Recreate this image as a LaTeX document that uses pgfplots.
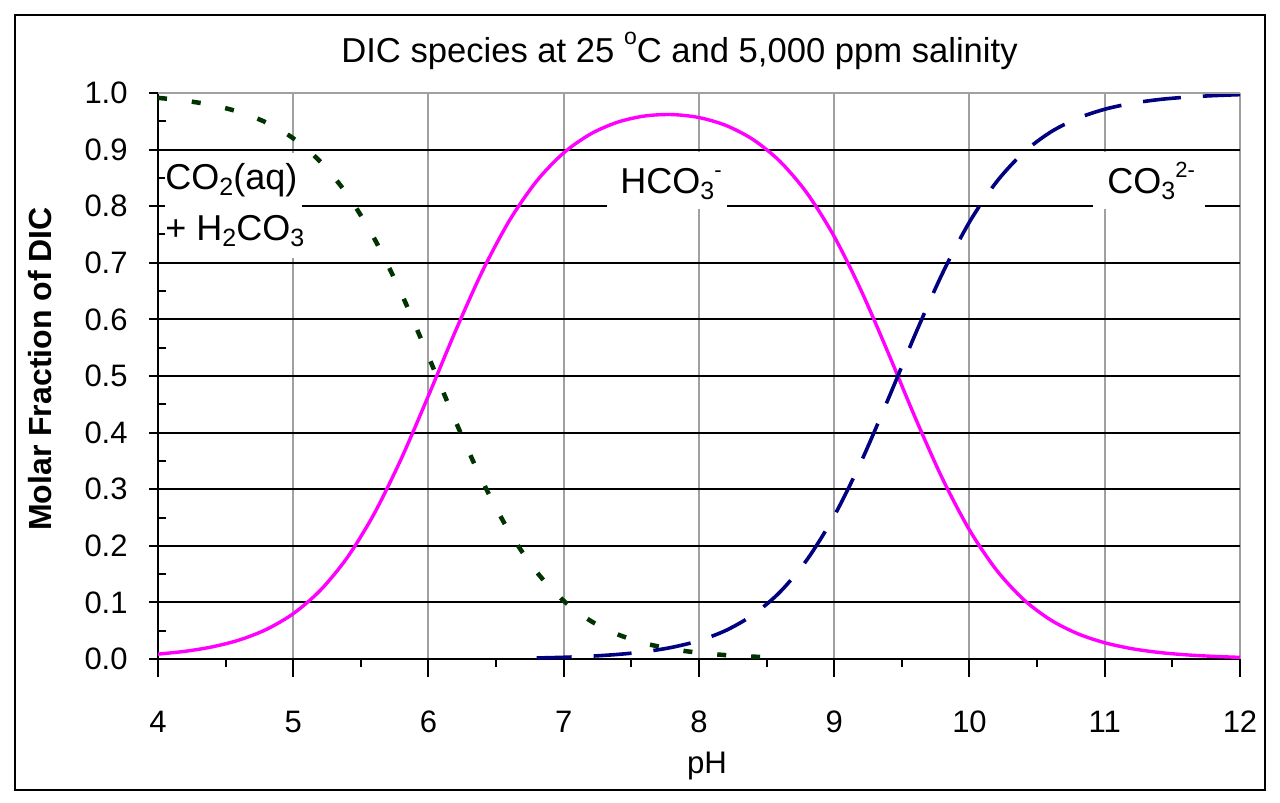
\documentclass[border=0pt]{standalone}
\usepackage{fontspec}
\setmainfont{Liberation Sans}
\usepackage{pgfplots}
\pgfplotsset{compat=1.18}
\definecolor{dicgreen}{RGB}{0,51,0}
\definecolor{dicblue}{RGB}{0,0,128}
\definecolor{dicmag}{RGB}{255,0,255}
\definecolor{gridgray}{RGB}{160,160,160}
\newcommand{\lsub}[1]{\raisebox{-3pt}{\fontsize{12.5}{13}\selectfont #1}}
\newcommand{\lsup}[1]{\raisebox{8pt}{\fontsize{11}{12}\selectfont #1}}

\pgfplotstableread{
ph frac
4.0 0.0086
4.2 0.0136
4.4 0.0214
4.6 0.0335
4.8 0.0521
5.0 0.0801
5.2 0.1213
5.4 0.1795
5.6 0.2574
5.8 0.3546
6.0 0.4654
6.2 0.5797
6.4 0.6859
6.6 0.7753
6.8 0.8445
7.0 0.8943
7.2 0.9278
7.4 0.9486
7.6 0.9594
7.8 0.9619
8.0 0.9566
8.2 0.9426
8.4 0.9177
8.6 0.8789
8.8 0.8226
9.0 0.7463
9.2 0.6504
9.4 0.5402
9.6 0.4257
9.8 0.3187
10.0 0.2279
10.2 0.1570
10.4 0.1051
10.6 0.0690
10.8 0.0447
11.0 0.0287
11.2 0.0183
11.4 0.0116
11.6 0.0074
11.8 0.0047
12.0 0.0029
}\hcothree

\pgfplotstableread{
ph frac
4.0 0.9914
4.2 0.9864
4.4 0.9786
4.6 0.9665
4.8 0.9479
5.0 0.9199
5.2 0.8787
5.4 0.8205
5.6 0.7426
5.8 0.6454
6.0 0.5344
6.2 0.4200
6.4 0.3135
6.6 0.2236
6.8 0.1537
7.0 0.1027
7.2 0.0672
7.4 0.0434
7.6 0.0277
7.8 0.0175
8.0 0.0110
8.2 0.0068
8.4 0.0042
8.6 0.0025
}\cotwo

\pgfplotstableread{
ph frac
6.8 0.0018
7.0 0.0030
7.2 0.0050
7.4 0.0081
7.6 0.0129
7.8 0.0206
8.0 0.0324
8.2 0.0506
8.4 0.0781
8.6 0.1186
8.8 0.1759
9.0 0.2529
9.2 0.3492
9.4 0.4598
9.6 0.5743
9.8 0.6813
10.0 0.7721
10.2 0.8430
10.4 0.8949
10.6 0.9310
10.8 0.9553
11.0 0.9713
11.2 0.9817
11.4 0.9884
11.6 0.9926
11.8 0.9953
12.0 0.9971
}\cothree

\begin{document}
\begin{tikzpicture}
\useasboundingbox (-79pt,-72pt) rectangle (561pt,329.5pt);
\draw[line width=1pt] (-71.5pt,-65.5pt) rectangle (553.5pt,322pt);
\begin{axis}[
  at={(0,0)}, anchor=south west,
  scale only axis, width=541pt, height=283pt,
  xmin=4, xmax=12, ymin=0, ymax=1,
  clip=false, no marks,
  axis x line*=bottom, axis y line*=left,
  axis line style={black, line width=1pt},
  xtick={4,5,6,7,8,9,10,11,12},
  ytick={0,0.1,0.2,0.3,0.4,0.5,0.6,0.7,0.8,0.9,1.0},
  minor x tick num=1, minor y tick num=1,
  tick align=center,
  major tick length=9pt, minor tick length=4pt,
  every tick/.style={black, line width=1pt},
  major x tick style={yshift=-4.5pt},
  minor x tick style={yshift=-2pt},
  minor y tick style={xshift=1.75pt},
  grid=major,
  major x grid style={gridgray, line width=1pt},
  major y grid style={black, line width=1pt},
  /pgf/number format/assume math mode=true,
  ticklabel style={font=\fontsize{15.5}{18}\selectfont, inner sep=0pt},
  xticklabel style={anchor=base, yshift=-32.4pt},
  yticklabel style={anchor=east, xshift=-10.5pt,
    /pgf/number format/.cd, fixed, fixed zerofill, precision=1, /tikz/.cd},
]
\addplot[dicgreen, line width=2.25pt, dash pattern=on 4.5pt off 12.5pt, smooth] table[x=ph, y=frac] {\cotwo};
\addplot[dicmag, line width=1.7pt, smooth] table[x=ph, y=frac] {\hcothree};
\addplot[dicblue, line width=1.8pt, dash pattern=on 19pt off 11pt, dash phase=1.5pt, smooth] table[x=ph, y=frac] {\cothree};

\draw[gridgray, line width=1pt] (axis cs:4,1) -- (axis cs:12,1);

\fill[white] (axis cs:4.05,0.708) rectangle (axis cs:5.065,0.894);
\fill[white] (axis cs:7.32,0.795) rectangle (axis cs:8.21,0.896);
\fill[white] (axis cs:10.913,0.795) rectangle (axis cs:11.741,0.896);
\node[anchor=base west, inner sep=0pt, font=\fontsize{18}{21}\selectfont] at (axis cs:4.052,0.829) {CO\lsub{2}(aq)};
\node[anchor=base west, inner sep=0pt, font=\fontsize{18}{21}\selectfont] at (axis cs:4.052,0.740) {+ H\lsub{2}CO\lsub{3}};
\node[anchor=base west, inner sep=0pt, font=\fontsize{18}{21}\selectfont] at (axis cs:7.416,0.823) {HCO\lsub{3}\lsup{-}};
\node[anchor=base west, inner sep=0pt, font=\fontsize{18}{21}\selectfont] at (axis cs:11.017,0.823) {CO\lsub{3}\lsup{2-}};
\end{axis}
\node[anchor=base, inner sep=0pt, font=\fontsize{17.3}{20}\selectfont] at (260.75pt,298pt) {DIC species at 25 \raisebox{9pt}{\fontsize{11.5}{12}\selectfont o}C and 5,000 ppm salinity};
\node[rotate=90, inner sep=0pt, font=\fontsize{16}{19}\selectfont\bfseries] at (-59pt,145pt) {Molar Fraction of DIC};
\node[anchor=base, inner sep=0pt, font=\fontsize{15.6}{18}\selectfont] at (274.5pt,-57pt) {pH};
\end{tikzpicture}
\end{document}
